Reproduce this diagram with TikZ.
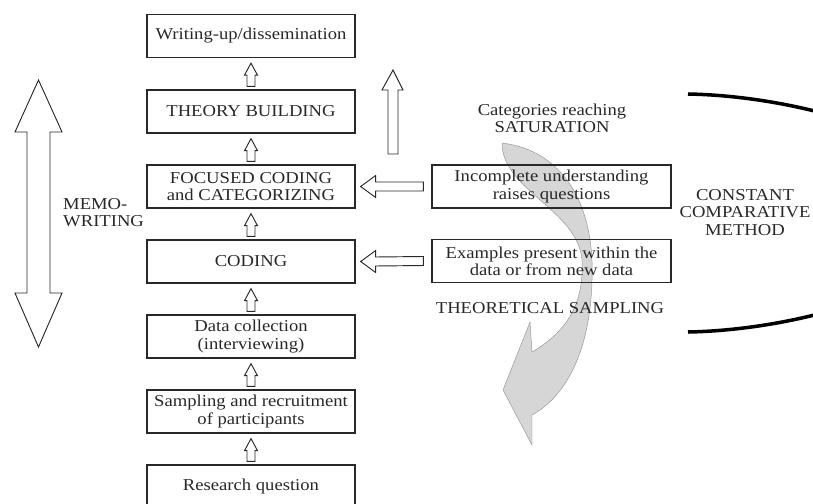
\documentclass[tikz,border=0pt]{standalone}
\usepackage{fontspec}
\setmainfont{Liberation Serif}[FakeStretch=1.12]
\usetikzlibrary{calc,positioning}
\definecolor{flowInk}{RGB}{40,40,40}
\definecolor{bandGray}{RGB}{214,214,214}
\definecolor{bandEdge}{RGB}{150,150,150}
\tikzset{
  stage/.style={draw=flowInk, line width=1.1pt, minimum width=6.24cm, minimum height=1.29cm,
    inner sep=0pt, align=center, text=flowInk, font=\fontsize{14.2}{14.6}\selectfont},
  probe/.style={stage, minimum width=7.17cm},
  caption/.style={inner sep=0pt, align=center, text=flowInk, font=\fontsize{14.2}{14.6}\selectfont},
  block/.style={draw=flowInk, line width=0.8pt, line join=miter},
  hollowup/.style={block, to path={
    ($(\tikztostart)+(-4,-3)$) -- ($(\tikztotarget)+(-4,17)$) -- ($(\tikztotarget)+(-6.5,17)$)
    -- ($(\tikztotarget)+(0,5)$) -- ($(\tikztotarget)+(6.5,17)$) -- ($(\tikztotarget)+(4,17)$)
    -- ($(\tikztostart)+(4,-3)$) -- cycle}},
  hollowleft/.style={block, to path={
    ($(\tikztostart)+(-8,-4.5)$) -- ($(\tikztotarget)+(20,-4.5)$) -- ($(\tikztotarget)+(20,-11)$)
    -- ($(\tikztotarget)+(5,0)$) -- ($(\tikztotarget)+(20,11)$) -- ($(\tikztotarget)+(20,4.5)$)
    -- ($(\tikztostart)+(-8,4.5)$) -- cycle}},
  bracket/.style={draw=black, line width=3pt}
}

\begin{document}
\begin{tikzpicture}[x=0.03cm,y=-0.03cm]
    \useasboundingbox (0,0) rectangle (813,503);
    % grey loop arrow behind the right column
    \fill[bandGray, draw=bandEdge, line width=0.4pt]
      (502,143) .. controls (560,150) and (595,200) .. (592,280)
      .. controls (590,360) and (560,400) .. (532,415) -- (532,445) -- (503,390)
      -- (530,322) -- (532,352) .. controls (570,330) and (584,300) .. (582,260)
      .. controls (578,210) and (502,190) .. (502,143) -- cycle;
    % main column
    \node[stage] (write) at (251,36) {Writing-up/dissemination};
    \node[stage] (theory) at (251,111.5) {THEORY BUILDING};
    \node[stage] (focus) at (251,186.5) {FOCUSED CODING\\and CATEGORIZING};
    \node[stage] (coding) at (251,261.5) {CODING};
    \node[stage] (collect) at (251,336.5) {Data collection\\(interviewing)};
    \node[stage] (recruit) at (251,411.5) {Sampling and recruitment\\of participants};
    \node[stage] (question) at (251,486.5) {Research question};
    \draw[hollowup] (question.north) to (recruit.south);
    \draw[hollowup] (recruit.north) to (collect.south);
    \draw[hollowup] (collect.north) to (coding.south);
    \draw[hollowup] (coding.north) to (focus.south);
    \draw[hollowup] (focus.north) to (theory.south);
    \draw[hollowup] (theory.north) to (write.south);
    % right column
    \node[probe] (gaps) at (551.5,186.5) {Incomplete understanding\\raises questions};
    \node[probe] (examples) at (551.5,261) {Examples present within the\\data or from new data};
    \draw[hollowleft] (gaps.west) to (focus.east);
    \draw[hollowleft] (examples.west) to (coding.east);
    \node[caption] (saturation) at (552,118) {Categories reaching\\SATURATION};
    \node[caption] (sampling) at (550,308) {THEORETICAL SAMPLING};
    \node[caption] (constant) at (745,212.5) {CONSTANT\\COMPARATIVE\\METHOD};
    % memo-writing double arrow
    \draw[block] (38.5,80) -- (62,132) -- (50,132) -- (50,293) -- (62,293) -- (38.5,347)
      -- (15,293) -- (27,293) -- (27,132) -- (15,132) -- cycle;
    \node[caption, anchor=west, align=left] (memo) at (63,213) {MEMO-\\WRITING};
    % saturation arrow
    \draw[block] (393,70) -- (403,90) -- (398,90) -- (398,154) -- (388,154) -- (388,90)
      -- (382,90) -- cycle;
    % bracket of the constant comparative method
    \begin{scope}
      \clip (0,0) rectangle (813,503);
      \draw[bracket] (688,94) .. controls (800,96) and (960,140) .. (960,213)
        .. controls (960,286) and (800,330) .. (688,332);
    \end{scope}
  \end{tikzpicture}
\end{document}
